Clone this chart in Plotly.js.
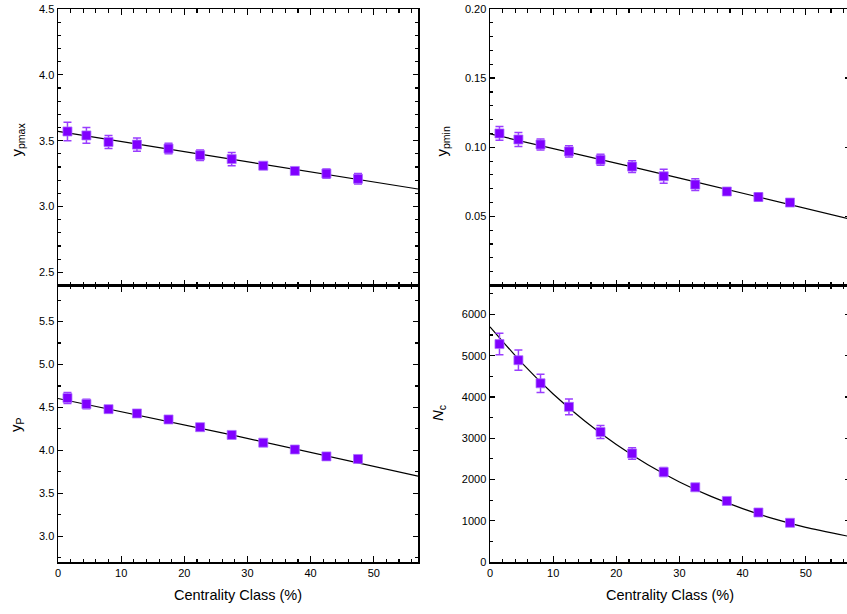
<!DOCTYPE html>
<html>
<head>
<meta charset="utf-8">
<script src="https://cdn.plot.ly/plotly-3.0.1.min.js"></script>
<style>
html, body { margin: 0; padding: 0; overflow: hidden; background: #fff; }
#chart { width: 850px; height: 614px; }
</style>
</head>
<body>
<div id="chart"></div>
<script>
// ---- data ----
const centrality = [1.5, 4.5, 8, 12.5, 17.5, 22.5, 27.5, 32.5, 37.5, 42.5, 47.5];

const ypmax    = [3.57, 3.54, 3.49, 3.47, 3.44, 3.39, 3.36, 3.31, 3.27, 3.25, 3.21];
const ypmaxErr = [0.07, 0.06, 0.05, 0.05, 0.04, 0.04, 0.05, 0.02, 0.015, 0.035, 0.04];

const ypmin    = [0.110, 0.1056, 0.102, 0.097, 0.091, 0.086, 0.079, 0.073, 0.068, 0.064, 0.060];
const ypminErr = [0.005, 0.005, 0.004, 0.004, 0.004, 0.0043, 0.005, 0.0042, 0.0015, 0.003, 0.0015];

const yP    = [4.61, 4.54, 4.48, 4.43, 4.36, 4.27, 4.18, 4.09, 4.01, 3.93, 3.90];
const yPErr = [0.065, 0.055, 0.035, 0.035, 0.025, 0.02, 0.025, 0.025, 0.04, 0.025, 0.02];

const Nc    = [5280, 4890, 4330, 3760, 3150, 2630, 2180, 1810, 1480, 1200, 950];
const NcErr = [260, 245, 220, 190, 160, 140, 110, 70, 50, 50, 40];

// fitted curves
const fitYpmaxX = [0, 57];
const fitYpmaxY = [3.57, 3.133];
const fitYpminX = [0, 22.5, 42.5, 57];
const fitYpminY = [0.1097, 0.0858, 0.064, 0.048];
const fitYPX = [0, 27.5, 57];
const fitYPY = [4.604, 4.18, 3.70];
const fitNcX = [0, 5, 10, 15, 20, 25, 30, 35, 40, 45, 50, 57];
const fitNcY = [5700, 4830, 4070, 3415, 2845, 2355, 1940, 1590, 1295, 1045, 840, 615];

const xTitle = 'Centrality Class (%)';
const yTitles = ['y<sub>pmax</sub>', 'y<sub>pmin</sub>', 'y<sub>P</sub>', '<i>N</i><sub>c</sub>'];

// ---- styling ----
const PURPLE = '#8000ff';
const ERRCOL = '#9a3dff';
const FONT = 'Arial, "Liberation Sans", sans-serif';

function pts(x, y, err, xa, ya) {
  return {
    type: 'scatter', mode: 'markers', x: x, y: y, xaxis: xa, yaxis: ya,
    marker: { symbol: 'square', size: 9, color: PURPLE,
              line: { color: 'rgba(170,110,255,0.75)', width: 1 } },
    error_y: { type: 'data', array: err, visible: true, color: ERRCOL, thickness: 1.5, width: 4 },
    showlegend: false, hoverinfo: 'x+y'
  };
}
function fit(x, y, xa, ya) {
  return {
    type: 'scatter', mode: 'lines', x: x, y: y, xaxis: xa, yaxis: ya,
    line: { color: '#000', width: 1.2, shape: 'spline', smoothing: 0.6 },
    showlegend: false, hoverinfo: 'skip'
  };
}

const data = [
  fit(fitYpmaxX, fitYpmaxY, 'x', 'y'),
  pts(centrality, ypmax, ypmaxErr, 'x', 'y'),
  fit(fitYpminX, fitYpminY, 'x2', 'y2'),
  pts(centrality, ypmin, ypminErr, 'x2', 'y2'),
  fit(fitYPX, fitYPY, 'x3', 'y3'),
  pts(centrality, yP, yPErr, 'x3', 'y3'),
  fit(fitNcX, fitNcY, 'x4', 'y4'),
  pts(centrality, Nc, NcErr, 'x4', 'y4')
];

const W = 850, H = 614, ML = 58, MR = 0, MT = 9, MB = 52;
const PW = W - ML - MR, PH = H - MT - MB;
const leftDom = [0, 360 / PW];
const rightDom = [432 / PW, 1];
const topDom = [0.5, 1];
const botDom = [0, 0.5];

function xax(dom, anchor, labels) {
  const a = {
    domain: dom, anchor: anchor, range: [0, 57], dtick: 10, tick0: 0,
    ticks: 'inside', ticklen: 6, tickwidth: 1.3, tickcolor: '#000',
    minor: { dtick: 2, tick0: 0, ticks: 'inside', ticklen: 3.5, tickwidth: 1.1, tickcolor: '#000' },
    showline: true, linecolor: '#000', linewidth: 1.5, mirror: 'allticks',
    showgrid: false, zeroline: false, showticklabels: labels,
    tickfont: { family: FONT, size: 11, color: '#000' }, fixedrange: true
  };
  if (labels) a.title = { text: xTitle, font: { family: FONT, size: 14.5, color: '#000' }, standoff: 12 };
  return a;
}
function yax(dom, anchor, range, extra) {
  return Object.assign({
    domain: dom, anchor: anchor, range: range,
    ticks: 'inside', ticklen: 5, tickwidth: 1.3, tickcolor: '#000',
    showline: true, linecolor: '#000', linewidth: 1.5, mirror: 'allticks',
    showgrid: false, zeroline: false,
    tickfont: { family: FONT, size: 11, color: '#000' }, fixedrange: true
  }, extra);
}

function px2paperX(px) { return (px - ML) / PW; }
function px2paperY(py) { return (H - MB - py) / PH; }

const ann = [
  [16.5, 140, yTitles[0]],
  [442, 141.5, yTitles[1]],
  [16, 425, yTitles[2]],
  [438, 413, yTitles[3]]
].map(([x, y, t]) => ({
  xref: 'paper', yref: 'paper', x: px2paperX(x), y: px2paperY(y),
  xanchor: 'center', yanchor: 'middle', text: t, textangle: -90, showarrow: false,
  font: { family: FONT, size: 15, color: '#000' }
}));

const layout = {
  width: W, height: H,
  margin: { l: ML, r: MR, t: MT, b: MB, pad: 0 },
  paper_bgcolor: '#fff', plot_bgcolor: '#fff',
  font: { family: FONT, color: '#000' },
  xaxis: xax(leftDom, 'y', false),
  xaxis2: xax(rightDom, 'y2', false),
  xaxis3: xax(leftDom, 'y3', true),
  xaxis4: xax(rightDom, 'y4', true),
  yaxis: yax(topDom, 'x', [2.4, 4.5], { dtick: 0.5, tick0: 0, tickformat: '.1f',
    minor: { dtick: 0.1, tick0: 0, ticks: 'inside', ticklen: 3, tickwidth: 1.1, tickcolor: '#000' } }),
  yaxis2: yax(topDom, 'x2', [0, 0.2], { tickmode: 'array', tickvals: [0.05, 0.10, 0.15, 0.20], tickformat: '.2f',
    minor: { dtick: 0.01, tick0: 0, ticks: 'inside', ticklen: 3, tickwidth: 1.1, tickcolor: '#000' } }),
  yaxis3: yax(botDom, 'x3', [2.7, 5.92], { dtick: 0.5, tick0: 0, tickformat: '.1f',
    minor: { dtick: 0.25, tick0: 0, ticks: 'inside', ticklen: 3, tickwidth: 1.1, tickcolor: '#000' } }),
  yaxis4: yax(botDom, 'x4', [0, 6700], { dtick: 1000, tick0: 0, tickformat: 'd',
    minor: { dtick: 500, tick0: 0, ticks: 'inside', ticklen: 3, tickwidth: 1.1, tickcolor: '#000' } }),
  annotations: ann
};

Plotly.newPlot('chart', data, layout, { displayModeBar: false, staticPlot: true });
</script>
</body>
</html>
